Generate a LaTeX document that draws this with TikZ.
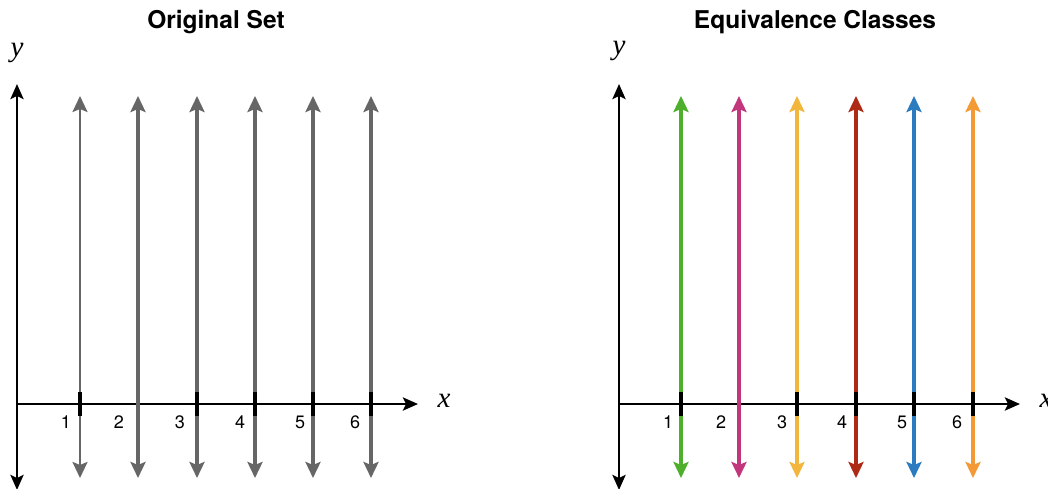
\documentclass[tikz,border=0pt]{standalone}
\usepackage{fontspec}
\setsansfont{TeX Gyre Heros}
\setmainfont{Liberation Serif}
\usetikzlibrary{arrows.meta}
\definecolor{cgray}{HTML}{666666}
\definecolor{cgreen}{HTML}{4DAF2C}
\definecolor{cmag}{HTML}{C2367C}
\definecolor{cyel}{HTML}{F2B63C}
\definecolor{cred}{HTML}{AE2A14}
\definecolor{cblue}{HTML}{2A7BC0}
\definecolor{corange}{HTML}{F39A36}
\tikzset{
  axis/.style={line width=2.8pt, black, -{Stealth[length=15pt,width=13pt,inset=3pt]}},
  vline/.style={line width=3.4pt, {Stealth[length=16pt,width=15pt,inset=3pt]}-{Stealth[length=16pt,width=15pt,inset=3pt]}},
  tick/.style={line width=3.2pt, black},
  num/.style={font=\sffamily\fontsize{18}{18}\selectfont, inner sep=0pt},
  title/.style={font=\sffamily\bfseries\fontsize{24.5}{24.5}\selectfont, inner sep=0pt},
  axlab/.style={font=\itshape\fontsize{29}{29}\selectfont, inner sep=0pt}
}
\begin{document}
\begin{tikzpicture}[x=1pt,y=-1pt]
\useasboundingbox (0,0) rectangle (1048,489);
% ---------- left panel ----------
\node[title] (t1) at (216,22) {Original Set};
\coordinate (o1) at (17,404);
\coordinate (ytop1) at (17,84);
\coordinate (ybot1) at (17,490);
\coordinate (xend1) at (418,404);
\node[axlab] (ly1) at (17,53) {y};
\node[axlab] (lx1) at (444,401) {x};
\draw[axis] (o1) -- (ytop1);
\draw[axis] (o1) -- (ybot1);
\draw[axis] (o1) -- (xend1);
\foreach \i/\xx/\lx/\tk/\lw in {1/80/66/1/2.4,2/138/119/0/3.4,3/197/180/1/3.4,4/255/240/1/3.4,5/313/300/1/3.4,6/371/355/1/3.4}{
  \coordinate (a\i t) at (\xx,96);
  \coordinate (a\i b) at (\xx,478);
  \draw[vline, cgray, line width=\lw pt] (a\i b) -- (a\i t);
  \ifnum\tk=1
    \coordinate (k\i a) at (\xx,392);
    \coordinate (k\i b) at (\xx,416);
    \draw[tick] (k\i a) -- (k\i b);
  \fi
  \node[num] (n\i) at (\lx,422) {\i};
}
% ---------- right panel ----------
\node[title] (t2) at (815,22) {Equivalence Classes};
\coordinate (o2) at (619,404);
\coordinate (ytop2) at (619,84);
\coordinate (ybot2) at (619,490);
\coordinate (xend2) at (1020,404);
\node[axlab] (ly2) at (619,51) {y};
\node[axlab] (lx2) at (1046,401) {x};
\draw[axis] (o2) -- (ytop2);
\draw[axis] (o2) -- (ybot2);
\draw[axis] (o2) -- (xend2);
\foreach \i/\xx/\lx/\tk/\col in {1/681/668/1/cgreen,2/739/721/0/cmag,3/797/782/1/cyel,4/856/842/1/cred,5/914/902/1/cblue,6/973/957/1/corange}{
  \coordinate (b\i t) at (\xx,96);
  \coordinate (b\i b) at (\xx,478);
  \draw[vline, \col] (b\i b) -- (b\i t);
  \ifnum\tk=1
    \coordinate (m\i a) at (\xx,392);
    \coordinate (m\i b) at (\xx,416);
    \draw[tick] (m\i a) -- (m\i b);
  \fi
  \node[num] (p\i) at (\lx,422) {\i};
}
\end{tikzpicture}
\end{document}
